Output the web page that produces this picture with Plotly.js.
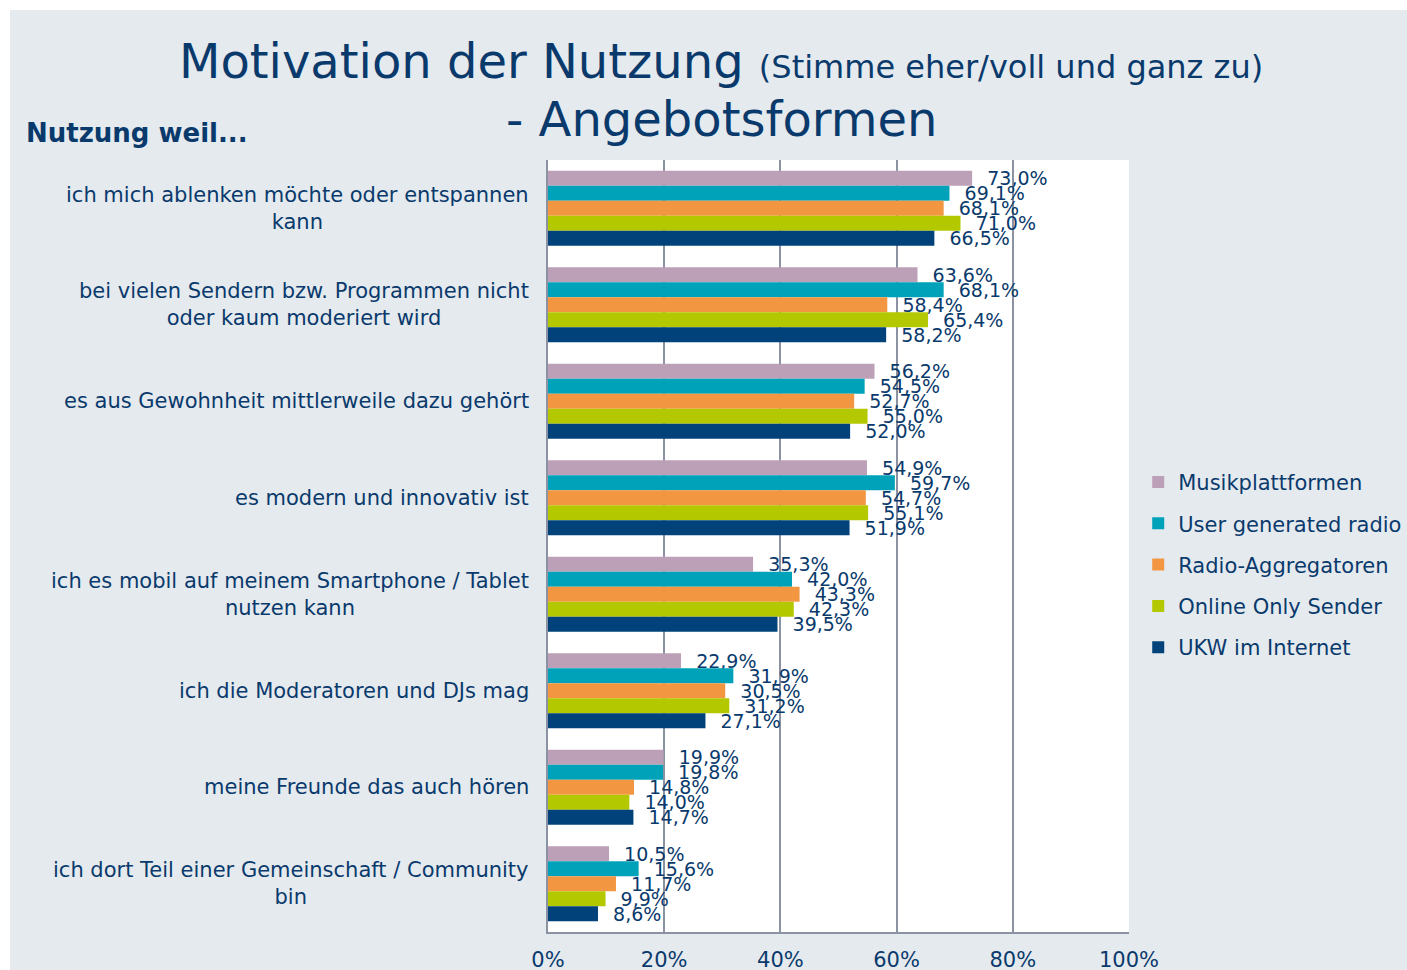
<!DOCTYPE html>
<html>
<head>
<meta charset="utf-8">
<script src="https://cdn.plot.ly/plotly-3.0.1.min.js"></script>
<style>
  html, body { margin: 0; padding: 0; background: #ffffff; }
  #chart { position: absolute; left: 10px; top: 10px; width: 1397px; height: 960px; }
</style>
</head>
<body>
<div id="chart"></div>
<script>
const categories = [
  "ich mich ablenken möchte oder entspannen<br>kann",
  "bei vielen Sendern bzw. Programmen nicht<br>oder kaum moderiert wird",
  "es aus Gewohnheit mittlerweile dazu gehört",
  "es modern und innovativ ist",
  "ich es mobil auf meinem Smartphone / Tablet<br>nutzen kann",
  "ich die Moderatoren und DJs mag",
  "meine Freunde das auch hören",
  "ich dort Teil einer Gemeinschaft / Community<br>bin"
];
const seriesNames = ["Musikplattformen", "User generated radio", "Radio-Aggregatoren", "Online Only Sender", "UKW im Internet"];
const musikplattformen = [73.0, 63.6, 56.2, 54.9, 35.3, 22.9, 19.9, 10.5];
const userGeneratedRadio = [69.1, 68.1, 54.5, 59.7, 42.0, 31.9, 19.8, 15.6];
const radioAggregatoren = [68.1, 58.4, 52.7, 54.7, 43.3, 30.5, 14.8, 11.7];
const onlineOnlySender = [71.0, 65.4, 55.0, 55.1, 42.3, 31.2, 14.0, 9.9];
const ukwImInternet = [66.5, 58.2, 52.0, 51.9, 39.5, 27.1, 14.7, 8.6];
const xTickValues = [0, 20, 40, 60, 80, 100];
const xTickLabels = ["0%", "20%", "40%", "60%", "80%", "100%"];

const seriesValues = [musikplattformen, userGeneratedRadio, radioAggregatoren, onlineOnlySender, ukwImInternet];
const colors = ["#bca0b7", "#00a2b9", "#f39642", "#b4c800", "#004279"];
const navy = "#0a3a6c";
const font = "DejaVu Sans, Verdana, sans-serif";

const traces = seriesNames.map((name, i) => ({
  type: "bar",
  orientation: "h",
  name: name,
  legendgroup: "g" + i,
  y: categories,
  x: seriesValues[i],
  marker: { color: colors[i], line: { width: 0 } },
  texttemplate: "\u00a0\u00a0%{x:.1f}%",
  textposition: "outside",
  constraintext: "none",
  cliponaxis: false,
  textfont: { family: font, size: 19, color: navy },
  hoverinfo: "x+name"
}));

const annotations = categories.map(c => ({
  xref: "paper", yref: "y", x: -0.0292, y: c,
  xanchor: "right", yanchor: "middle", align: "center",
  text: c, showarrow: false,
  font: { family: font, size: 21, color: navy }
}));
annotations.push({
  xref: "paper", yref: "paper", x: 0.2978, y: 1.0526,
  xanchor: "center", yanchor: "middle",
  text: "- Angebotsformen", showarrow: false,
  font: { family: font, size: 48, color: navy }
});
annotations.push({
  xref: "paper", yref: "paper", x: -0.9019, y: 1.035,
  xanchor: "left", yanchor: "middle",
  text: "<b>Nutzung weil...</b>", showarrow: false,
  font: { family: font, size: 26, color: navy }
});

const layout = {
  width: 1397, height: 960,
  paper_bgcolor: "#e5eaef",
  plot_bgcolor: "#ffffff",
  margin: { l: 538, r: 278, t: 150, b: 38, pad: 0, autoexpand: false },
  separators: ",.",
  barmode: "group",
  bargap: 0.225,
  bargroupgap: 0,
  title: {
    text: "Motivation der Nutzung <span style=\"font-size:32px\">(Stimme eher/voll und ganz zu)</span>",
    xref: "container", yref: "container",
    x: 0.509, xanchor: "center",
    y: 0.947, yanchor: "middle",
    font: { family: font, size: 48, color: navy }
  },
  xaxis: {
    range: [0, 100],
    tickvals: xTickValues,
    ticktext: xTickLabels,
    showgrid: true, gridcolor: "#8b93a3", gridwidth: 2,
    zeroline: false,
    showline: true, linecolor: "#8b93a3", linewidth: 2,
    ticks: "", ticklabelstandoff: 8,
    tickfont: { family: font, size: 21, color: navy },
    fixedrange: true
  },
  yaxis: {
    autorange: "reversed",
    showticklabels: false,
    showgrid: false, zeroline: false,
    showline: true, linecolor: "#8b93a3", linewidth: 2,
    ticks: "",
    fixedrange: true
  },
  legend: {
    xref: "container", yref: "paper",
    x: 0.8076, xanchor: "left",
    y: 0.609, yanchor: "top",
    bgcolor: "rgba(0,0,0,0)",
    traceorder: "grouped",
    tracegroupgap: 11,
    font: { family: font, size: 21, color: navy }
  },
  annotations: annotations,
  showlegend: true
};

Plotly.newPlot("chart", traces, layout, { displayModeBar: false, responsive: false });
</script>
</body>
</html>
